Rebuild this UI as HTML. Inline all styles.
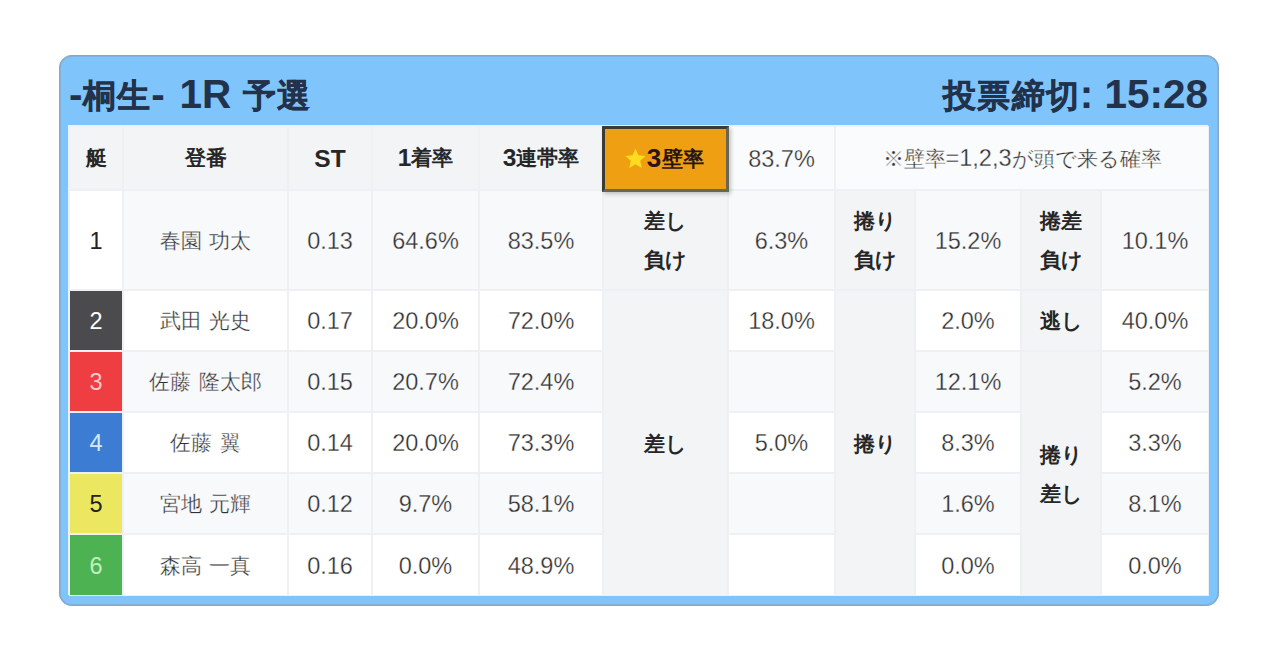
<!DOCTYPE html>
<html lang="ja">
<head>
<meta charset="utf-8">
<title>桐生 1R 予選</title>
<style>
html,body{margin:0;padding:0;background:#fff;}
body{width:1280px;height:670px;overflow:hidden;position:relative;font-family:"Liberation Sans",sans-serif;color:#333;}

/* blue card */
.card{position:absolute;left:59px;top:55px;width:1160px;height:551px;box-sizing:border-box;border:2px solid #80c4fc;border-radius:13px;background:#80c4fc;}
.card:before{content:"";position:absolute;left:-2px;top:-2px;right:-2px;bottom:-2px;border:1px solid #8aa5c4;border-radius:13px;box-shadow:inset 0 0 0 1px rgba(138,165,196,.6);pointer-events:none;}

/* title bar */
.title{position:absolute;top:15px;height:44px;line-height:44px;font-weight:bold;font-size:40.5px;color:#22324b;white-space:nowrap;}
.title .j{font-size:33px;letter-spacing:1.4px;vertical-align:0.7px;-webkit-text-stroke:0.4px #22324b;}
.title.left{left:8px;}
.title.right{right:9px;}
.title.right .j{margin-right:-1px;}
.title .g{margin-left:3.5px;}

/* table */
table{position:absolute;left:8px;top:69px;width:1140px;height:470px;table-layout:fixed;border-collapse:separate;border-spacing:0;background:#fff;box-shadow:-1px -1px 0 0 #e9f3fb;}
tr.h{height:64px;}
tr.r1{height:100px;}
tr.r{height:61px;}
tr.r6{height:62px;}
td,th{box-sizing:border-box;margin:0;padding:1px 0 0;text-align:center;vertical-align:middle;border:1px solid #eef0f3;white-space:nowrap;--bg:#fff;background:var(--bg);}
tr.odd td{--bg:#f8f9fb;}

/* regular-weight value cells (thin look: hairline stroke in the cell colour) */
td{font-weight:normal;font-size:23.5px;line-height:26px;color:#303030;-webkit-text-stroke:0.3px var(--bg);}
td.top{--bg:#fafbfc;}
td.name{font-size:21px;word-spacing:2px;}
td .j{font-size:21px;}

/* header + label cells (bold) */
th{font-weight:bold;font-size:24.5px;line-height:26px;padding-top:1.5px;color:#262626;--bg:#f3f4f6;}
th .j{font-size:21px;position:relative;top:-1.2px;}
tr td.lab{--bg:#f3f4f6;font-weight:bold;font-size:21px;line-height:39px;padding-top:0;color:#262626;-webkit-text-stroke:0;}

/* boat-number colour cells */
tr td.b{-webkit-text-stroke:0;}
tr td.b1{--bg:#fff;color:#222;}
tr td.b2{--bg:#4b4b4d;color:#fff;}
tr td.b3{--bg:#ee3e42;color:#fcc;}
tr td.b4{--bg:#3c7dd3;color:#d6e7fb;}
tr td.b5{--bg:#ece761;color:#222;}
tr td.b6{--bg:#4db251;color:#bdf2bd;}

/* highlighted ★3壁率 header */
th.wall{position:relative;--bg:#ee9f12;color:#2a1416;border-color:#ee9f12;}
th.wall .box{position:absolute;left:-2px;top:-1px;right:-2px;bottom:-3px;box-sizing:border-box;background:#ee9f12;border:3px solid #3b3a36;border-right-color:#6b6556;border-bottom-color:#6b6556;box-shadow:2px 2px 4px rgba(0,0,0,.22);display:flex;align-items:center;justify-content:center;}
th.wall svg{width:21px;height:21px;margin:-1px 1px 0 -2px;flex:none;}
th.wall .box>span{font-size:26px;letter-spacing:.4px;}
</style>
</head>
<body>
<div class="card">
  <div class="title left">-<span class="j">桐生</span>- <span class="g">1R</span> <span class="j">予選</span></div>
  <div class="title right"><span class="j">投票締切</span>: 15:28</div>
  <table>
    <colgroup>
      <col style="width:54px"><col style="width:165px"><col style="width:84px"><col style="width:107px"><col style="width:124px"><col style="width:125px"><col style="width:107px"><col style="width:80px"><col style="width:106px"><col style="width:80px"><col style="width:108px">
    </colgroup>
    <tr class="h">
      <th><span class="j">艇</span></th>
      <th><span class="j">登番</span></th>
      <th>ST</th>
      <th>1<span class="j">着率</span></th>
      <th>3<span class="j">連帯率</span></th>
      <th class="wall"><div class="box"><svg viewBox="0 0 20 20"><path fill="#fddc1f" d="M10.00 0.50 L12.76 6.90 L19.70 7.55 L14.47 12.15 L16.00 18.95 L10.00 15.40 L4.00 18.95 L5.53 12.15 L0.30 7.55 L7.24 6.90 Z"/></svg><span>3<span class="j">壁率</span></span></div></th>
      <td class="top">83.7%</td>
      <td class="top" colspan="4"><span class="j">※壁率</span>=1,2,3<span class="j">が頭で来る確率</span></td>
    </tr>
    <tr class="r1 odd">
      <td class="b b1">1</td>
      <td class="name">春園 功太</td>
      <td>0.13</td>
      <td>64.6%</td>
      <td>83.5%</td>
      <td class="lab">差し<br>負け</td>
      <td>6.3%</td>
      <td class="lab">捲り<br>負け</td>
      <td>15.2%</td>
      <td class="lab">捲差<br>負け</td>
      <td>10.1%</td>
    </tr>
    <tr class="r">
      <td class="b b2">2</td>
      <td class="name">武田 光史</td>
      <td>0.17</td>
      <td>20.0%</td>
      <td>72.0%</td>
      <td class="lab" rowspan="5">差し</td>
      <td>18.0%</td>
      <td class="lab" rowspan="5">捲り</td>
      <td>2.0%</td>
      <td class="lab">逃し</td>
      <td>40.0%</td>
    </tr>
    <tr class="r odd">
      <td class="b b3">3</td>
      <td class="name">佐藤 隆太郎</td>
      <td>0.15</td>
      <td>20.7%</td>
      <td>72.4%</td>
      <td></td>
      <td>12.1%</td>
      <td class="lab" rowspan="4">捲り<br>差し</td>
      <td>5.2%</td>
    </tr>
    <tr class="r">
      <td class="b b4">4</td>
      <td class="name">佐藤 翼</td>
      <td>0.14</td>
      <td>20.0%</td>
      <td>73.3%</td>
      <td>5.0%</td>
      <td>8.3%</td>
      <td>3.3%</td>
    </tr>
    <tr class="r odd">
      <td class="b b5">5</td>
      <td class="name">宮地 元輝</td>
      <td>0.12</td>
      <td>9.7%</td>
      <td>58.1%</td>
      <td></td>
      <td>1.6%</td>
      <td>8.1%</td>
    </tr>
    <tr class="r6">
      <td class="b b6">6</td>
      <td class="name">森高 一真</td>
      <td>0.16</td>
      <td>0.0%</td>
      <td>48.9%</td>
      <td></td>
      <td>0.0%</td>
      <td>0.0%</td>
    </tr>
  </table>
</div>
</body>
</html>
